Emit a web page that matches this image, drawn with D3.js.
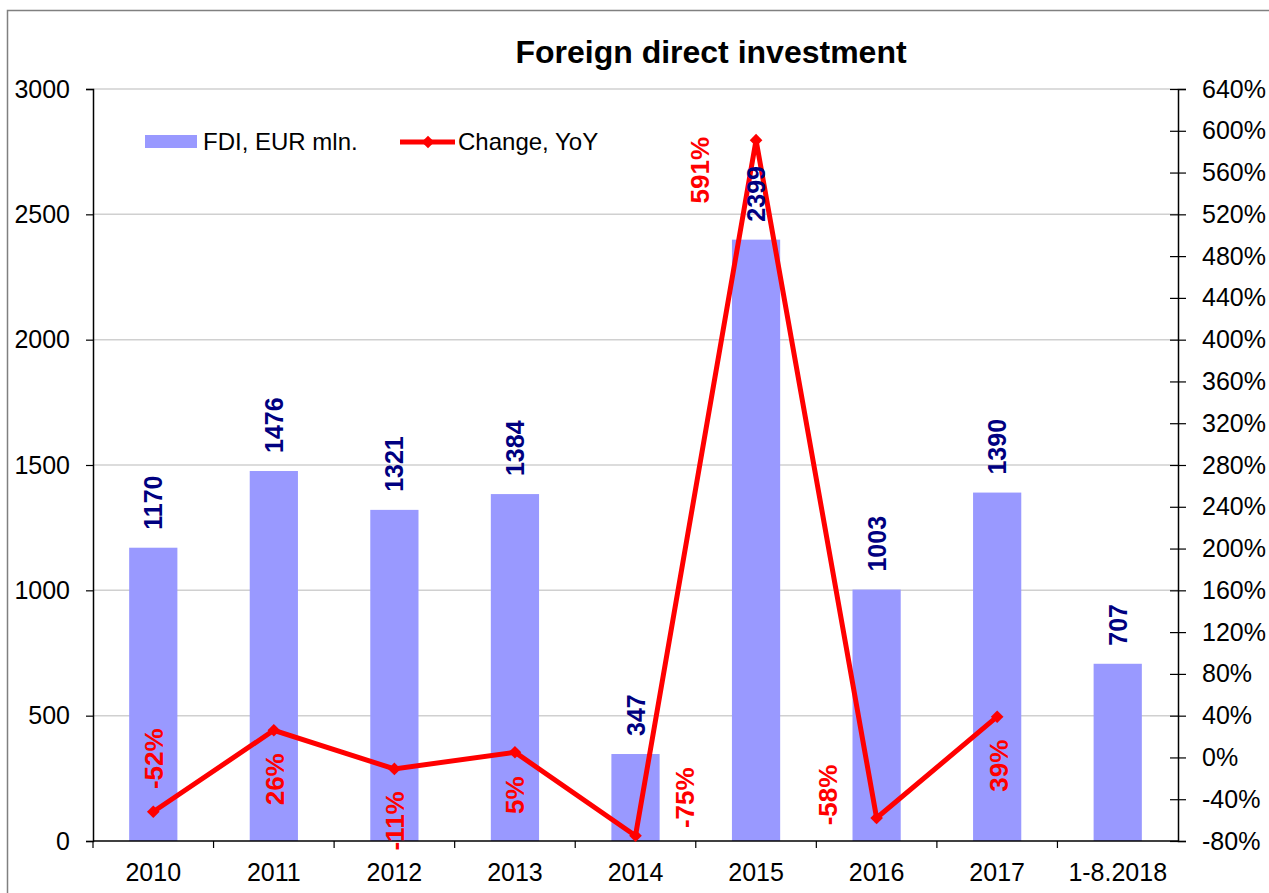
<!DOCTYPE html>
<html>
<head>
<meta charset="utf-8">
<script src="https://cdn.jsdelivr.net/npm/d3@7"></script>
<style>
  body { margin: 0; background: #fff; }
  svg { font-family: "Liberation Sans", Arial, sans-serif; }
</style>
</head>
<body>
<svg id="chart" width="1269" height="893"></svg>
<script>
// data
const categories = ["2010", "2011", "2012", "2013", "2014", "2015", "2016", "2017", "1-8.2018"];
const fdi = [1170, 1476, 1321, 1384, 347, 2399, 1003, 1390, 707];
const change = [-0.52, 0.26, -0.11, 0.05, -0.75, 5.91, -0.58, 0.39, null];
const leftTicks = [0, 500, 1000, 1500, 2000, 2500, 3000];
const rightTicks = d3.range(-0.8, 6.41, 0.4);

// where the % labels sit around each point (pixels)
const pctLabelOffset = [[0, -53], [1, 49], [0, 52], [0, 43], [49, -38], [-56, 30], [-49, -23], [1, 49]];

const svg = d3.select("#chart");
const pLeft = 93, pRight = 1178, pTop = 89, pBottom = 841;

// outer frame
svg.append("rect")
    .attr("x", 7.5).attr("y", 10.5)
    .attr("width", 1400).attr("height", 1000)
    .attr("fill", "none")
    .attr("stroke", "#808080")
    .attr("stroke-width", 1.5);

const x = d3.scaleBand()
    .domain(categories)
    .range([pLeft, pRight])
    .paddingInner(0.6)
    .paddingOuter(0.3);

const y = d3.scaleLinear().domain([0, 3000]).range([pBottom, pTop]);
const y2 = d3.scaleLinear().domain([-0.8, 6.4]).range([pBottom, pTop]);

// gridlines
svg.append("g")
    .selectAll("line")
    .data(leftTicks.slice(1))
    .enter()
    .append("line")
    .attr("x1", pLeft).attr("x2", pRight)
    .attr("y1", d => y(d)).attr("y2", d => y(d))
    .attr("stroke", "#d0d0d0")
    .attr("stroke-width", 1.5);

// bars
svg.append("g")
    .selectAll("rect")
    .data(fdi)
    .enter()
    .append("rect")
    .attr("x", (d, i) => x(categories[i]))
    .attr("y", d => y(d))
    .attr("width", x.bandwidth())
    .attr("height", d => pBottom - y(d))
    .attr("fill", "#9999ff");

// axes
const leftAxis = svg.append("g")
    .attr("transform", "translate(" + pLeft + ",0)")
    .call(d3.axisLeft(y).tickValues(leftTicks).tickSize(7).tickPadding(16).tickFormat(d3.format("d")));

const rightAxis = svg.append("g")
    .attr("transform", "translate(" + pRight + ",0)")
    .call(d3.axisRight(y2).tickValues(rightTicks).tickSize(8).tickPadding(16)
        .tickFormat(d => Math.round(d * 100) + "%"));
rightAxis.selectAll(".tick line").attr("x1", -8);

const bottomAxis = svg.append("g")
    .attr("transform", "translate(0," + pBottom + ")")
    .call(d3.axisBottom(x).tickSize(0).tickPadding(22));

// category boundary ticks
svg.append("g")
    .selectAll("line")
    .data(d3.range(categories.length))
    .enter()
    .append("line")
    .attr("x1", i => x(categories[i]) - x.step() * 0.3)
    .attr("x2", i => x(categories[i]) - x.step() * 0.3)
    .attr("y1", pBottom).attr("y2", pBottom + 7)
    .attr("stroke", "#000")
    .attr("stroke-width", 1.2);

[leftAxis, rightAxis, bottomAxis].forEach(function (g) {
    g.select(".domain").attr("stroke", "#000").attr("stroke-width", 1.5);
    g.selectAll(".tick line").attr("stroke", "#000").attr("stroke-width", 1.2);
    g.selectAll(".tick text")
        .attr("font-size", 25)
        .attr("fill", "#000")
        .attr("font-family", "Liberation Sans, Arial, sans-serif");
});
bottomAxis.select(".domain").attr("d", "M" + pLeft + ",0H" + pRight);

// line
const cx = i => x(categories[i]) + x.bandwidth() / 2;
const lineData = change.map((d, i) => ({ i: i, v: d })).filter(d => d.v !== null);

svg.append("path")
    .attr("d", d3.line().x(d => cx(d.i)).y(d => y2(d.v))(lineData))
    .attr("fill", "none")
    .attr("stroke", "#ff0000")
    .attr("stroke-width", 5)
    .attr("stroke-linejoin", "miter");

svg.append("g")
    .selectAll("path")
    .data(lineData)
    .enter()
    .append("path")
    .attr("d", d3.symbol().type(d3.symbolSquare).size(80))
    .attr("transform", d => "translate(" + cx(d.i) + "," + y2(d.v) + ") rotate(45)")
    .attr("fill", "#ff0000");

// bar value labels
svg.append("g")
    .selectAll("text")
    .data(fdi)
    .enter()
    .append("text")
    .attr("transform", (d, i) => "translate(" + cx(i) + "," + (y(d) - 18) + ") rotate(-90)")
    .attr("dy", "0.36em")
    .attr("text-anchor", "start")
    .attr("font-size", 25)
    .attr("font-weight", "bold")
    .attr("fill", "#000080")
    .text(d => d);

// change labels
svg.append("g")
    .selectAll("text")
    .data(lineData)
    .enter()
    .append("text")
    .attr("transform", d => "translate(" + (cx(d.i) + pctLabelOffset[d.i][0]) + "," +
        (y2(d.v) + pctLabelOffset[d.i][1]) + ") rotate(-90)")
    .attr("dy", "0.36em")
    .attr("text-anchor", "middle")
    .attr("font-size", 26)
    .attr("font-weight", "bold")
    .attr("fill", "#ff0000")
    .text(d => Math.round(d.v * 100) + "%");

// title
svg.append("text")
    .attr("x", 711).attr("y", 63)
    .attr("text-anchor", "middle")
    .attr("font-size", 32)
    .attr("font-weight", "bold")
    .text("Foreign direct investment");

// legend
const legend = svg.append("g");
legend.append("rect")
    .attr("x", 145).attr("y", 135)
    .attr("width", 52).attr("height", 13)
    .attr("fill", "#9999ff");
legend.append("text")
    .attr("x", 203).attr("y", 150)
    .attr("font-size", 24)
    .text("FDI, EUR mln.");
legend.append("line")
    .attr("x1", 400).attr("x2", 455)
    .attr("y1", 142).attr("y2", 142)
    .attr("stroke", "#ff0000")
    .attr("stroke-width", 5);
legend.append("path")
    .attr("d", d3.symbol().type(d3.symbolSquare).size(80))
    .attr("transform", "translate(428,142) rotate(45)")
    .attr("fill", "#ff0000");
legend.append("text")
    .attr("x", 458).attr("y", 150)
    .attr("font-size", 24)
    .text("Change, YoY");
</script>
</body>
</html>
